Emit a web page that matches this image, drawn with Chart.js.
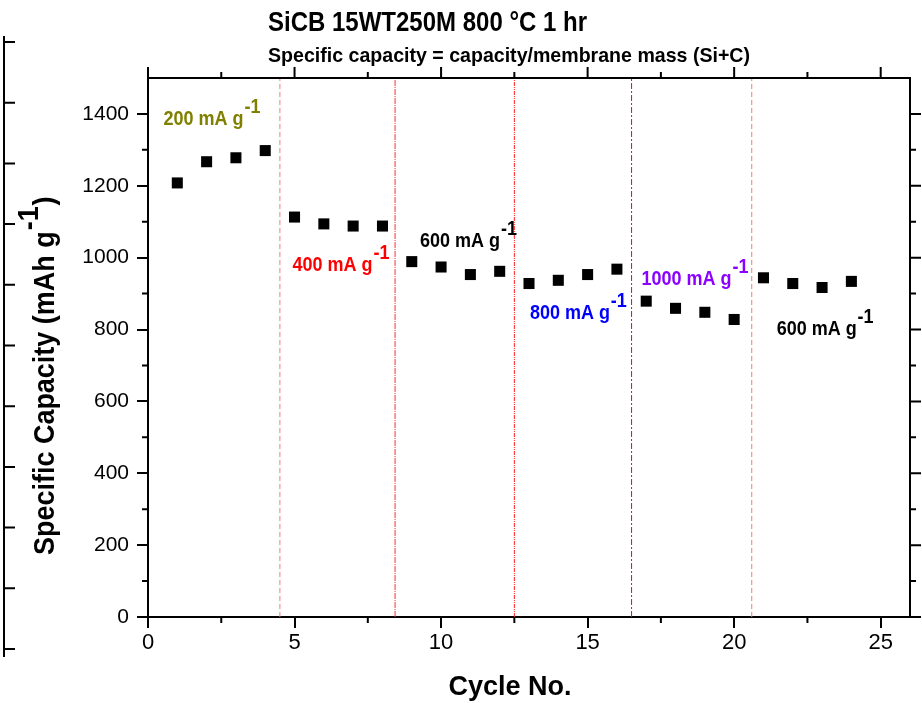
<!DOCTYPE html>
<html>
<head>
<meta charset="utf-8">
<script src="https://cdn.jsdelivr.net/npm/chart.js@4/dist/chart.umd.min.js"></script>
<style>
html, body { margin: 0; padding: 0; background: #fff; }
</style>
</head>
<body>
<canvas id="chartRate" width="922" height="703"></canvas>
<script>
// 사이클 번호 / 비용량 (mAh g-1)
var cycles = [1, 2, 3, 4, 5, 6, 7, 8, 9, 10, 11, 12, 13, 14, 15, 16, 17, 18, 19, 20, 21, 22, 23, 24];
var capacity = [1208, 1267, 1278, 1298, 1113, 1094, 1088, 1088, 989, 974, 953, 962,
                928, 937, 953, 968, 879, 859, 848, 828, 944, 928, 917, 934];

// 전류밀도 구간 경계 (cycle)
var rateBounds = [4.5, 8.43, 12.5, 16.5, 20.6];
// 전류밀도 라벨
var rateLabels = ["200 mA g", "400 mA g", "600 mA g", "800 mA g", "1000 mA g", "600 mA g"];

var xTicks = [0, 5, 10, 15, 20, 25];
var yTicks = [0, 200, 400, 600, 800, 1000, 1200, 1400];

var FONT = '"Liberation Sans", Arial, sans-serif';

// 구간 경계선 스타일
var boundStyles = [
    { color: "#ff7474", dash: [5, 3] },
    { color: "#ff3030", dash: [6, 1, 1, 1] },
    { color: "#ff2020", dash: [4, 1, 1, 1, 1, 1] },
    { color: "#e01010", dash: [6, 2, 2, 2] },
    { color: "#ff7474", dash: [5, 3] }
];

// 라벨 위치 (데이터 좌표) 와 색
var labelSpots = [
    { x: 0.53, y: 1368, color: "#808000" },
    { x: 4.93, y: 964, color: "#ff0000" },
    { x: 9.28, y: 1031, color: "#000000" },
    { x: 13.03, y: 828, color: "#0000ff" },
    { x: 16.84, y: 923, color: "#8b00ff" },
    { x: 21.45, y: 784, color: "#000000" }
];

var datasets = [{
    label: "capacity",
    data: cycles.map(function(c, i) { return { x: c, y: capacity[i] }; }),
    pointStyle: "rect",
    pointRadius: 7.8,
    pointHoverRadius: 7.8,
    backgroundColor: "#000",
    borderWidth: 0,
    showLine: false
}];

rateBounds.forEach(function(b, i) {
    datasets.push({
        type: "line",
        label: "bound" + i,
        data: [{ x: b, y: 0 }, { x: b, y: 1500 }],
        borderColor: boundStyles[i].color,
        borderDash: boundStyles[i].dash,
        borderWidth: 1,
        pointRadius: 0,
        showLine: true,
        fill: false
    });
});

function midpoints(arr, max) {
    var out = [];
    for (var i = 0; i < arr.length; i++) {
        var next = i + 1 < arr.length ? arr[i + 1] : arr[i] + (arr[1] - arr[0]);
        var m = (arr[i] + next) / 2;
        if (m < max) out.push(m);
    }
    return out;
}

// 위첨자 포함 텍스트 (sx: 가로 압축 비율)
function drawRich(ctx, x, y, base, sup, tail, size, color, rise, sxr) {
    ctx.save();
    ctx.translate(x, y);
    ctx.scale(sxr, 1);
    ctx.font = "bold " + size + "px " + FONT;
    ctx.fillStyle = color;
    ctx.textAlign = "left";
    ctx.textBaseline = "alphabetic";
    ctx.fillText(base, 0, 0);
    var w = ctx.measureText(base).width + 1;
    ctx.fillText(sup, w, -rise);
    if (tail) {
        w += ctx.measureText(sup).width + 1;
        ctx.fillText(tail, w, 0);
    }
    ctx.restore();
}

var framePlugin = {
    id: "frame",
    afterDraw: function(chart) {
        var ctx = chart.ctx;
        var a = chart.chartArea;
        var sx = chart.scales.x, sy = chart.scales.y;
        ctx.save();
        ctx.strokeStyle = "#000";
        ctx.lineWidth = 2;

        // 위/오른쪽 테두리
        ctx.beginPath();
        ctx.moveTo(a.left - 1, a.top);
        ctx.lineTo(a.right, a.top);
        ctx.lineTo(a.right, a.bottom + 1);
        ctx.stroke();

        // 눈금
        ctx.beginPath();
        xTicks.forEach(function(v) {
            var px = sx.getPixelForValue(v);
            ctx.moveTo(px, a.top); ctx.lineTo(px, a.top - 11);
        });
        midpoints(xTicks, 26).forEach(function(v) {
            var px = sx.getPixelForValue(v);
            ctx.moveTo(px, a.top); ctx.lineTo(px, a.top - 6);
            ctx.moveTo(px, a.bottom); ctx.lineTo(px, a.bottom + 6);
        });
        yTicks.forEach(function(v) {
            var py = sy.getPixelForValue(v);
            ctx.moveTo(a.right, py); ctx.lineTo(a.right + 11, py);
        });
        midpoints(yTicks, 1500).forEach(function(v) {
            var py = sy.getPixelForValue(v);
            ctx.moveTo(a.right, py); ctx.lineTo(a.right + 6, py);
            ctx.moveTo(a.left, py); ctx.lineTo(a.left - 6, py);
        });
        ctx.stroke();

        // 왼쪽 잘린 축
        ctx.beginPath();
        ctx.moveTo(4, 36); ctx.lineTo(4, 657);
        for (var i = 0; i < 11; i++) {
            var ty = 42 + i * 60.7;
            ctx.moveTo(4, ty); ctx.lineTo(15, ty);
        }
        ctx.stroke();

        // 제목
        ctx.fillStyle = "#000";
        ctx.textAlign = "left";
        ctx.textBaseline = "alphabetic";
        ctx.font = "bold 27px " + FONT;
        ctx.fillText("SiCB 15WT250M 800 \u00B0C 1 hr", 268, 31, 319);
        ctx.font = "bold 21px " + FONT;
        ctx.fillText("Specific capacity = capacity/membrane mass (Si+C)", 268, 62, 482);

        // 축 제목
        ctx.font = "bold 27px " + FONT;
        ctx.textAlign = "center";
        ctx.fillText("Cycle No.", 510, 695);

        ctx.save();
        ctx.translate(54, 555);
        ctx.rotate(-Math.PI / 2);
        drawRich(ctx, 0, 0, "Specific Capacity (mAh g", "-1", ")", 29, "#000", 16, 0.93);
        ctx.restore();

        // 전류밀도 라벨
        labelSpots.forEach(function(s, i) {
            drawRich(ctx, sx.getPixelForValue(s.x), sy.getPixelForValue(s.y),
                rateLabels[i], "-1", "", 20, s.color, 12, 0.9);
        });
        ctx.restore();
    }
};

var chartRate = new Chart(document.getElementById("chartRate").getContext("2d"), {
    type: "scatter",
    data: { datasets: datasets },
    options: {
        responsive: false,
        animation: false,
        layout: { padding: { top: 78, right: 12, left: 0, bottom: 0 } },
        plugins: { legend: { display: false }, tooltip: { enabled: false } },
        scales: {
            x: {
                type: "linear",
                min: 0,
                max: 26,
                afterBuildTicks: function(s) { s.ticks = xTicks.map(function(v) { return { value: v }; }); },
                afterFit: function(s) { s.height = 86; },
                grid: { drawOnChartArea: false, drawTicks: true, tickLength: 11, color: "#000", lineWidth: 2 },
                border: { display: true, color: "#000", width: 2 },
                ticks: {
                    color: "#000", font: { family: FONT, size: 22 }, padding: 2, maxRotation: 0,
                    callback: function(v) { return String(v); }
                }
            },
            y: {
                type: "linear",
                min: 0,
                max: 1500,
                afterBuildTicks: function(s) { s.ticks = yTicks.map(function(v) { return { value: v }; }); },
                afterFit: function(s) { s.width = 148; },
                grid: { drawOnChartArea: false, drawTicks: true, tickLength: 11, color: "#000", lineWidth: 2 },
                border: { display: true, color: "#000", width: 2 },
                ticks: {
                    color: "#000", font: { family: FONT, size: 21 }, padding: 8,
                    callback: function(v) { return String(v); }
                }
            }
        }
    },
    plugins: [framePlugin]
});
</script>
</body>
</html>
